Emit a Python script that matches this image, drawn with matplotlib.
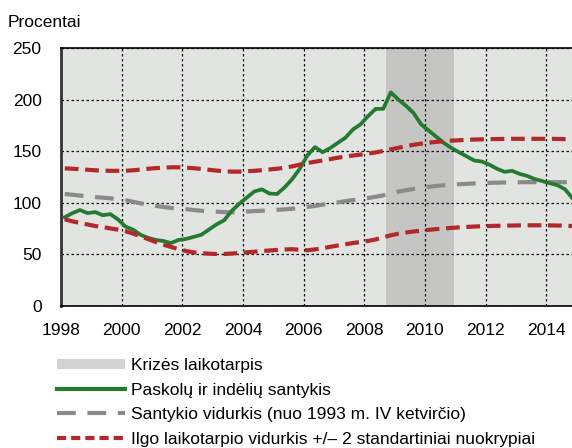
import numpy as np
import matplotlib
matplotlib.use("Agg")
import matplotlib.pyplot as plt
from matplotlib.patches import Patch
from matplotlib.lines import Line2D

plt.rcParams['font.family'] = ['Liberation Sans', 'DejaVu Sans']

# quarterly observations, 1998 Q1 .. 2014 Q4 (plotted at mid-quarter)
quarters = 1998.125 + 0.25 * np.arange(68)

loan_to_deposit = [
    86, 90, 93, 90, 91, 88, 89, 84,
    77, 74, 69, 66, 64, 63, 61, 64,
    65, 67, 69, 74, 79, 83, 92, 99,
    105, 111, 113, 109, 108.5, 115, 123, 133,
    146, 154, 149, 153, 158, 163, 171, 176,
    184, 191, 191, 207, 200, 194, 187, 176,
    170, 164, 158, 153, 149, 145, 141, 140,
    137, 133, 130, 131, 128, 126, 123, 121,
    119, 117, 113, 104,
]

ratio_mean = [
    108.5, 107.8, 107, 106.2, 105.5, 105, 104.3, 103.5,
    102.5, 101, 99.5, 98, 97, 96, 95, 94.5,
    93.8, 93, 92.3, 91.8, 91.4, 91, 90.8, 91,
    91.5, 92, 92.3, 92.8, 93.2, 93.6, 94.2, 95,
    96, 97, 98.2, 99.3, 100.4, 101.5, 102.6, 103.6,
    104.6, 105.8, 107.2, 109.2, 110.8, 112.2, 113.4, 114.5,
    115.5, 116.3, 117, 117.6, 118, 118.4, 118.7, 119,
    119.3, 119.5, 119.7, 119.8, 119.9, 120, 120, 120,
    120, 120, 120, 119.8,
]

upper_band = [
    133.4, 133, 132.5, 132, 131.5, 131.2, 131, 131,
    131, 131.5, 132.2, 133, 133.6, 134, 134.4, 134.4,
    134, 133.5, 132.8, 132, 131.2, 130.6, 130.2, 130.2,
    130.6, 131, 131.6, 132.3, 133, 134, 135.3, 137,
    138.5, 139.8, 141, 142.3, 143.7, 144.8, 145.8, 146.7,
    147.7, 148.8, 150.2, 151.8, 153.3, 154.8, 156.2, 157.3,
    158.3, 159, 159.6, 160.2, 160.6, 161, 161.3, 161.5,
    161.7, 161.8, 161.9, 162, 162, 162, 162, 162,
    162, 161.9, 161.7, 161.5,
]

lower_band = [
    84, 82, 80.5, 79, 77.5, 76.5, 75.2, 74,
    72.5, 70.2, 67.5, 64.8, 62, 59.5, 57.2, 55.2,
    53.2, 52, 51.2, 50.7, 50.4, 50.4, 50.8, 51.4,
    52, 52.6, 53.2, 53.8, 54.3, 54.8, 55, 54.5,
    54, 54.8, 56, 57.3, 58.6, 59.8, 61, 62,
    63, 64.5, 66.5, 68.5, 70, 71.2, 72.2, 73,
    73.8, 74.5, 75.1, 75.7, 76.2, 76.6, 77, 77.3,
    77.5, 77.7, 77.9, 78, 78.1, 78.2, 78.2, 78.2,
    78.1, 78, 77.8, 77.5,
]

crisis_start, crisis_end = 2008.72, 2010.95
year_ticks = list(range(1998, 2015, 2))
value_ticks = [0, 50, 100, 150, 200, 250]

labels = [
    "Krizės laikotarpis",
    "Paskolų ir indėlių santykis",
    "Santykio vidurkis (nuo 1993 m. IV ketvirčio)",
    "Ilgo laikotarpio vidurkis +/– 2 standartiniai nuokrypiai",
]

green = "#237A30"
grey = "#8A8A8A"
red = "#B3282A"
fs = 12.5

fig = plt.figure(figsize=(5.72, 4.48), dpi=100)
ax = fig.add_axes([61 / 572, 142 / 448, 511 / 572, 258 / 448])
ax.set_facecolor("#E1E4E1")

ax.axvspan(crisis_start, crisis_end, color="#C5C6C4", lw=0, zorder=1)

ax.plot(quarters, ratio_mean, color=grey, lw=3, dashes=(4.5, 2.8), zorder=3)
ax.plot(quarters, loan_to_deposit, color=green, lw=2.7, zorder=4)
ax.plot(quarters, upper_band, color=red, lw=3, dashes=(3.3, 1.6), zorder=5)
ax.plot(quarters, lower_band, color=red, lw=3, dashes=(3.3, 1.6), zorder=5)

ax.set_xlim(1998, 2014.85)
ax.set_ylim(0, 250)
ax.set_xticks(year_ticks)
ax.set_yticks(value_ticks)
ax.grid(True, color="#111111", lw=0.9, linestyle=(0, (2, 2)))
ax.tick_params(length=0, labelsize=fs)
ax.tick_params(axis="y", pad=14)
ax.tick_params(axis="x", pad=12)

ax.spines["left"].set_linewidth(2)
ax.spines["left"].set_color("#333333")
ax.spines["bottom"].set_linewidth(1.2)
ax.spines["top"].set_linewidth(1.2)
ax.spines["right"].set_visible(False)

fig.text(8 / 572, 1 - 27 / 448, "Procentai", fontsize=fs, va="baseline", ha="left")

handles = [
    Patch(facecolor="#D3D3D3", edgecolor="none"),
    Line2D([], [], color=green, lw=3),
    Line2D([], [], color=grey, lw=3, dashes=(4.5, 2.8)),
    Line2D([], [], color=red, lw=3, dashes=(2.2, 1.2)),
]
fig.legend(handles, labels, loc="upper left", bbox_to_anchor=(57 / 572, 1 - 358 / 448),
           frameon=False, fontsize=fs, handlelength=3.9, handleheight=0.55,
           handletextpad=0.35, labelspacing=0.55, borderpad=0, borderaxespad=0)

fig.savefig("out.png", dpi=100)
